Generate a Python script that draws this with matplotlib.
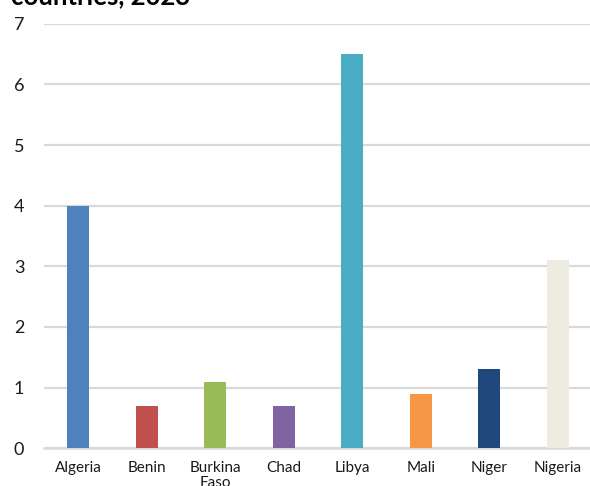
import matplotlib
matplotlib.use("Agg")
import matplotlib.pyplot as plt

countries = ["Algeria", "Benin", "Burkina\nFaso", "Chad", "Libya", "Mali", "Niger", "Nigeria"]
values = [4.0, 0.7, 1.1, 0.7, 6.5, 0.9, 1.3, 3.1]
colors = ["#4F81BD", "#C0504D", "#9BBB59", "#8064A2", "#4BACC6", "#F79646", "#1F497D", "#EEECE1"]
yticks = [0, 1, 2, 3, 4, 5, 6, 7]

plt.rcParams["font.family"] = ["Lato", "DejaVu Sans"]

fig = plt.figure(figsize=(5.9, 4.86), dpi=100)
ax = fig.add_axes([0.0741, 0.0776, 0.9298, 0.8735])

x = list(range(len(countries)))
ax.bar(x, values, width=0.32, color=colors, zorder=3)

ax.set_xlim(-0.5, len(countries) - 0.5)
ax.set_ylim(0, 7)
ax.set_yticks(yticks)
ax.set_yticklabels([str(t) for t in yticks], fontsize=13, color="#1a1a1a")
ax.set_xticks(x)
ax.set_xticklabels(countries, fontsize=11, color="#1a1a1a", linespacing=1.15)
ax.tick_params(axis="both", length=0)
ax.tick_params(axis="y", pad=14)
ax.tick_params(axis="x", pad=9)

ax.yaxis.grid(True, color="#d9d9d9", linewidth=1.6, zorder=0)
for side in ("left", "right", "top"):
    ax.spines[side].set_visible(False)
ax.spines["bottom"].set_color("#d9d9d9")
ax.spines["bottom"].set_linewidth(1.8)

fig.text(0.018, 1 - 4 / 486, "countries, 2023", fontsize=18.5, fontweight="bold",
         color="black", va="baseline", ha="left")

fig.savefig("out.png", dpi=100)
